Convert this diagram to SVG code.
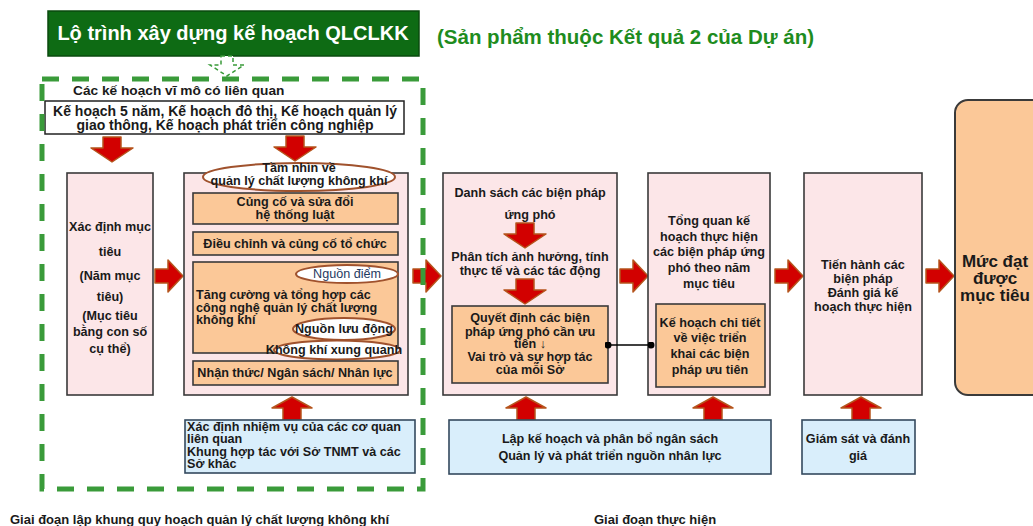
<svg xmlns="http://www.w3.org/2000/svg" xmlns:xlink="http://www.w3.org/1999/xlink" width="1033" height="526" viewBox="0 0 1033 526">
<defs>
<style>
text{font-family:"Liberation Sans","Noto Sans",Arial,sans-serif;font-weight:bold;fill:#1a1a1a}
.t11{font-size:12.6px}
.t12{font-size:14px}
.c{text-anchor:middle}
.pink{fill:#fce6e8;stroke:#3a3a3a;stroke-width:1.6}
.org{fill:#fbc898;stroke:#3a3a3a;stroke-width:1.6}
.blue{fill:#d9eefb;stroke:#34495e;stroke-width:1.6}
.ell{fill:#ffffff;stroke:#a0522d;stroke-width:2}
.arr{fill:#d20000;stroke:#b5541c;stroke-width:1.5;stroke-linejoin:round}
</style>
<path id="aDown" class="arr" d="M-9,0 H9 V11 H21 L0,25 L-21,11 H-9 Z"/>
<path id="aUp" class="arr" d="M-9,23 H9 V11 H20 L0,0 L-20,11 H-9 Z"/>
<path id="aRight" class="arr" d="M0,-7 H13 V-16 L28,0 L13,16 V7 H0 Z"/>
<marker id="dot" viewBox="0 0 10 10" refX="5" refY="5" markerWidth="7" markerHeight="7" markerUnits="userSpaceOnUse"><circle cx="5" cy="5" r="5" fill="#000"/></marker>
</defs>

<g id="title">
<rect x="48" y="11" width="371" height="45" fill="#0e6b14" stroke="#0a4a0e" stroke-width="1.5"/>
<text x="233" y="40" class="c" style="font-size:20px;fill:#ffffff">Lộ trình xây dựng kế hoạch QLCLKK</text>
</g>
<g id="subtitle">
<text x="437" y="44" style="font-size:20.5px;fill:#1e8c1e">(Sản phẩm thuộc Kết quả 2 của Dự án)</text>
</g>

<g id="macro">
<text x="73" y="95" style="font-size:13.7px">Các kế hoạch vĩ mô có liên quan</text>
<rect x="45" y="101" width="359" height="33" fill="#ffffff" stroke="#222" stroke-width="1.5"/>
<text x="225" y="116" class="c t12">Kế hoạch 5 năm, Kế hoạch đô thị, Kế hoạch quản lý</text>
<text x="225" y="130" class="c t12">giao thông, Kế hoạch phát triển công nghiệp</text>
</g>

<g id="connectors">
<path d="M221,56 H233 V65 H244 L227,76 L210,65 H221 Z" fill="#ffffff" stroke="#3a9b3a" stroke-width="1.5" stroke-dasharray="4 3"/>
<use href="#aDown" x="112" y="137"/>
<use href="#aDown" x="295" y="136"/>
<use href="#aRight" x="155" y="276"/>
<use href="#aRight" x="413" y="276"/>
<use href="#aRight" x="620" y="276"/>
<use href="#aRight" x="775" y="276"/>
<use href="#aRight" x="926" y="276"/>
<use href="#aUp" x="292" y="397"/>
<use href="#aUp" x="526" y="397"/>
<use href="#aUp" x="713" y="397"/>
<use href="#aUp" x="861" y="397"/>
</g>

<g id="goal">
<rect x="67" y="173" width="86" height="222" class="pink"/>
<text x="110" y="231" class="c t11">Xác định mục</text>
<text x="110" y="256" class="c t11">tiêu</text>
<text x="110" y="280" class="c t11">(Năm mục</text>
<text x="110" y="301" class="c t11">tiêu)</text>
<text x="110" y="320" class="c t11">(Mục tiêu</text>
<text x="110" y="336" class="c t11">bằng con số</text>
<text x="110" y="353" class="c t11">cụ thể)</text>
</g>

<g id="vision">
<rect x="184" y="173" width="224" height="222" class="pink"/>
<ellipse cx="299" cy="177" rx="96" ry="14" class="ell"/>
<text x="299" y="172" class="c t11">Tầm nhìn về</text>
<text x="299" y="185" class="c t11">quản lý chất lượng không khí</text>
<rect x="193" y="193" width="205" height="31" class="org"/>
<text x="295" y="206" class="c t11">Củng cố và sửa đổi</text>
<text x="295" y="219" class="c t11">hệ thống luật</text>
<rect x="193" y="232" width="205" height="23" class="org"/>
<text x="295" y="248" class="c t11">Điều chỉnh và củng cố tổ chức</text>
<rect x="193" y="262" width="205" height="91" class="org"/>
<text x="196" y="299" class="t11">Tăng cường và tổng hợp các</text>
<text x="196" y="312" class="t11">công nghệ quản lý chất lượng</text>
<text x="196" y="324" class="t11">không khí</text>
<ellipse cx="347" cy="274" rx="51" ry="9" class="ell"/>
<text x="347" y="278" class="c t11" style="font-weight:normal;fill:#1f3a5f">Nguồn điểm</text>
<ellipse cx="344" cy="329" rx="51" ry="11" class="ell"/>
<text x="344" y="333" class="c t11">Nguồn lưu động</text>
<ellipse cx="337" cy="350" rx="63" ry="9.5" class="ell"/>
<text x="334" y="354" class="c t11">Không khí xung quanh</text>
<rect x="193" y="361" width="205" height="24" class="org"/>
<text x="295" y="377" class="c t11">Nhận thức/ Ngân sách/ Nhân lực</text>
</g>

<g id="tasks">
<rect x="185" y="420" width="230" height="53" class="blue"/>
<text x="187" y="431" class="t11">Xác định nhiệm vụ của các cơ quan</text>
<text x="187" y="443" class="t11">liên quan</text>
<text x="187" y="456" class="t11">Khung hợp tác với Sở TNMT và các</text>
<text x="187" y="468" class="t11">Sở khác</text>
</g>

<g id="measures">
<rect x="443" y="173" width="174" height="222" class="pink"/>
<text x="530" y="197" class="c t11">Danh sách các biện pháp</text>
<text x="530" y="219" class="c t11">ứng phó</text>
<use href="#aDown" x="525" y="223"/>
<text x="530" y="261" class="c t11">Phân tích ảnh hưởng, tính</text>
<text x="530" y="275" class="c t11">thực tế và các tác động</text>
<use href="#aDown" x="525" y="279"/>
<rect x="452" y="306" width="156" height="77" class="org"/>
<text x="530" y="322" class="c t11">Quyết định các biện</text>
<text x="530" y="336" class="c t11">pháp ứng phó cần ưu</text>
<text x="530" y="348" class="c t11">tiên ↓</text>
<text x="530" y="361" class="c t11">Vai trò và sự hợp tác</text>
<text x="530" y="374" class="c t11">của mỗi Sở</text>
</g>

<g id="overview">
<rect x="648" y="173" width="122" height="222" class="pink"/>
<text x="709" y="225" class="c t11">Tổng quan kế</text>
<text x="709" y="241" class="c t11">hoạch thực hiện</text>
<text x="709" y="256" class="c t11">các biện pháp ứng</text>
<text x="709" y="272" class="c t11">phó theo năm</text>
<text x="709" y="288" class="c t11">mục tiêu</text>
<rect x="656" y="304" width="109" height="83" class="org"/>
<text x="710" y="327" class="c t11">Kế hoạch chi tiết</text>
<text x="710" y="342" class="c t11">về việc triển</text>
<text x="710" y="358" class="c t11">khai các biện</text>
<text x="710" y="374" class="c t11">pháp ưu tiên</text>
</g>

<g id="link">
<line x1="608" y1="345" x2="651" y2="345" stroke="#000" stroke-width="1.3" marker-start="url(#dot)" marker-end="url(#dot)"/>
</g>

<g id="execute">
<rect x="804" y="173" width="118" height="222" class="pink"/>
<text x="863" y="269" class="c t11">Tiến hành các</text>
<text x="863" y="283" class="c t11">biện pháp</text>
<text x="863" y="297" class="c t11">Đánh giá kế</text>
<text x="863" y="311" class="c t11">hoạch thực hiện</text>
</g>

<g id="result">
<rect x="955" y="100" width="100" height="295" rx="13" class="org" style="stroke-width:2"/>
<text x="995" y="267" class="c" style="font-size:17px">Mức đạt</text>
<text x="995" y="284" class="c" style="font-size:17px">được</text>
<text x="995" y="301" class="c" style="font-size:17px">mục tiêu</text>
</g>

<g id="budget">
<rect x="449" y="420" width="322" height="54" class="blue"/>
<text x="610" y="443" class="c t11">Lập kế hoạch và phân bổ ngân sách</text>
<text x="610" y="460" class="c t11">Quản lý  và phát triển nguồn nhân lực</text>
</g>

<g id="monitor">
<rect x="802" y="420" width="113" height="54" class="blue"/>
<text x="858" y="443" class="c t11">Giám sát và đánh</text>
<text x="858" y="460" class="c t11">giá</text>
</g>

<g id="frame">
<rect x="42" y="79" width="381" height="410" fill="none" stroke="#3a9b3a" stroke-width="5" stroke-dasharray="17 13"/>
</g>

<g id="phases">
<text x="10" y="524" style="font-size:13px">Giai đoạn lập khung quy hoạch quản lý chất lượng không khí</text>
<text x="594" y="524" style="font-size:13px">Giai đoạn thực hiện</text>
</g>
</svg>
